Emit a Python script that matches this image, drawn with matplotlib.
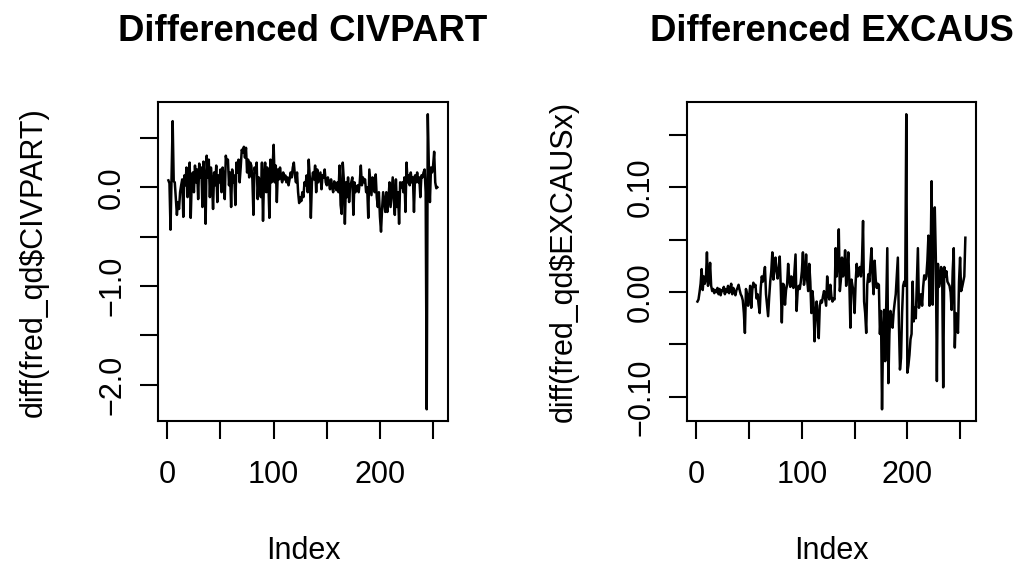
import matplotlib
matplotlib.use("Agg")
import matplotlib.pyplot as plt
import numpy as np

plt.rcParams['font.family'] = ['Liberation Sans', 'DejaVu Sans']

# differenced CIVPART (quarterly)
civpart = [
    0.07, 0.04, -0.43, 0.10, 0.67, 0.06, 0.05, -0.12, -0.28, -0.15,
    -0.22, -0.05, 0.02, 0.08, -0.30, 0.12, 0.02, 0.20, -0.10, 0.10,
    0.25, -0.31, 0.08, 0.15, -0.05, 0.22, 0.05, 0.18, -0.12, 0.24,
    0.10, 0.20, -0.20, 0.26, 0.05, -0.37, 0.32, 0.10, 0.28, -0.10,
    0.20, 0.05, -0.22, 0.15, 0.02, 0.22, -0.15, 0.12, 0.05, 0.18,
    -0.05, 0.20, 0.08, -0.12, 0.32, 0.25, 0.28, 0.02, 0.15, -0.20,
    0.18, 0.05, 0.12, -0.18, 0.25, 0.15, 0.28, 0.05, 0.20, 0.38,
    0.35, 0.41, 0.30, 0.40, 0.15, 0.28, 0.10, 0.25, 0.22, 0.08,
    -0.28, 0.20, 0.15, 0.25, -0.12, 0.10, 0.05, -0.10, 0.25, -0.34,
    0.12, 0.25, -0.05, 0.20, 0.05, -0.31, 0.28, 0.05, 0.20, 0.43,
    0.05, 0.22, -0.15, 0.18, 0.08, 0.20, 0.10, 0.05, 0.15, 0.08,
    0.12, 0.05, 0.10, 0.02, 0.08, 0.15, 0.10, 0.20, 0.25, 0.12,
    0.05, 0.15, -0.05, -0.16, -0.10, -0.14, -0.05, -0.10, 0.05, 0.02,
    0.12, -0.05, 0.28, 0.10, -0.31, 0.05, 0.15, 0.08, 0.22, -0.05,
    0.18, 0.05, 0.10, 0.15, -0.02, 0.12, 0.10, 0.18, 0.05, 0.02,
    0.10, 0.05, -0.02, 0.08, 0.00, -0.05, 0.06, 0.02, -0.03, 0.05,
    -0.05, 0.22, -0.18, -0.27, 0.25, 0.08, -0.37, 0.05, -0.10, 0.10,
    -0.15, 0.02, 0.05, 0.10, -0.28, 0.05, -0.05, 0.00, 0.02, -0.05,
    0.05, 0.22, 0.02, 0.10, 0.05, 0.08, -0.05, 0.00, -0.31, 0.18,
    0.05, -0.08, 0.10, 0.05, -0.05, 0.13, -0.10, -0.20, -0.05, -0.30,
    -0.45, -0.22, -0.05, -0.15, -0.25, -0.05, -0.25, -0.12, 0.05, -0.20,
    -0.05, 0.10, -0.12, -0.28, 0.08, -0.20, -0.05, -0.37, 0.05, 0.00,
    0.05, -0.05, 0.10, -0.25, 0.25, 0.05, 0.12, 0.02, 0.15, 0.05,
    0.10, -0.25, 0.12, 0.05, 0.15, 0.05, 0.10, -0.10, 0.12, 0.10,
    0.15, 0.18, -0.05, -2.25, 0.74, 0.20, -0.15, 0.20, 0.15, 0.22,
    0.36, 0.05, -0.01, 0.00,
]

# differenced EXCAUS (quarterly)
excaus = [
    -0.009, -0.007, 0.000, 0.008, 0.022, 0.002, 0.015, 0.008, 0.012, 0.038,
    0.006, 0.012, 0.028, 0.006, 0.001, 0.003, -0.001, 0.002, 0.000, 0.004,
    -0.002, 0.003, -0.003, 0.002, 0.001, 0.005, -0.002, 0.003, 0.000, 0.006,
    -0.001, 0.003, 0.008, -0.002, 0.004, 0.000, -0.003, 0.002, 0.004, 0.007,
    0.002, -0.002, -0.004, -0.008, -0.020, -0.039, 0.003, -0.002, -0.013, -0.004,
    0.006, -0.015, 0.002, 0.009, 0.005, 0.007, -0.006, -0.002, -0.012, -0.020,
    0.004, 0.015, 0.010, 0.016, 0.024, -0.002, -0.012, -0.023, -0.005, 0.010,
    0.020, 0.038, 0.012, 0.024, 0.033, 0.020, 0.013, 0.022, 0.034, 0.005,
    -0.029, 0.008, 0.007, -0.012, 0.002, 0.007, 0.027, 0.012, 0.005, 0.015,
    0.008, 0.004, 0.020, 0.036, -0.018, 0.001, 0.006, 0.003, 0.010, 0.020,
    0.038, 0.007, 0.015, 0.036, 0.012, 0.001, 0.027, 0.010, -0.020, 0.001,
    -0.010, -0.047, -0.020, -0.009, -0.025, -0.044, -0.013, -0.008, -0.010, -0.004,
    0.001, -0.006, -0.013, 0.015, -0.002, -0.007, 0.007, -0.004, -0.009, -0.006,
    -0.007, 0.042, 0.015, 0.030, 0.060, 0.001, 0.012, 0.033, 0.015, 0.022,
    0.040, 0.006, 0.020, 0.038, 0.010, -0.034, 0.012, 0.006, 0.001, -0.020,
    0.010, 0.027, 0.015, 0.020, 0.024, 0.015, 0.030, 0.068, -0.009, -0.020,
    -0.039, 0.007, 0.017, 0.010, 0.027, 0.042, 0.015, -0.002, 0.030, 0.012,
    0.004, 0.008, 0.007, -0.040, -0.018, -0.112, -0.040, -0.017, -0.066, -0.010,
    0.042, -0.087, -0.040, -0.018, -0.025, -0.034, -0.019, -0.010, -0.002, 0.015,
    0.033, -0.030, -0.074, -0.063, -0.020, 0.006, 0.010, 0.006, 0.170, -0.077,
    -0.070, -0.060, -0.045, -0.040, 0.010, -0.028, -0.015, -0.025, 0.010, 0.042,
    -0.015, -0.005, -0.002, -0.013, 0.005, 0.016, 0.012, 0.015, 0.030, 0.054,
    -0.013, 0.027, 0.106, -0.012, 0.060, 0.081, 0.033, -0.085, 0.027, 0.005,
    0.010, 0.024, 0.020, -0.091, 0.024, 0.015, 0.020, 0.010, 0.008, 0.006,
    0.000, -0.017, 0.020, 0.042, -0.053, -0.020, -0.029, -0.039, 0.010, 0.033,
    0.001, 0.005, 0.010, 0.015, 0.052,
]

titles = ["Differenced CIVPART", "Differenced EXCAUS"]
ylabels = ["diff(fred_qd$CIVPART)", "diff(fred_qd$EXCAUSx)"]
xticks = [0, 50, 100, 150, 200, 250]
xticklabels = ["0", "", "100", "", "200", ""]
yticks = [[0.5, 0.0, -0.5, -1.0, -1.5, -2.0],
          [0.15, 0.10, 0.05, 0.00, -0.05, -0.10]]
yticklabels = [["", "0.0", "", "\u22121.0", "", "\u22122.0"],
               ["", "0.10", "", "0.00", "", "\u22120.10"]]

fig = plt.figure(figsize=(10.21, 5.71), dpi=100)
boxes = [[0.1544, 0.2625, 0.2845, 0.5581],
         [0.6726, 0.2625, 0.2834, 0.5581]]

for k, series in enumerate([civpart, excaus]):
    ax = fig.add_axes(boxes[k])
    y = np.array(series)
    x = np.arange(1, len(y) + 1)
    ax.plot(x, y, color="black", lw=1.8)
    # R style 4% padding
    xr = x[-1] - x[0]
    ax.set_xlim(x[0] - 0.04 * xr, x[-1] + 0.04 * xr)
    yr = y.max() - y.min()
    ax.set_ylim(y.min() - 0.04 * yr, y.max() + 0.04 * yr)

    ax.set_xticks(xticks)
    ax.set_xticklabels(xticklabels)
    ax.set_yticks(yticks[k])
    ax.set_yticklabels(yticklabels[k], rotation=90, va="center")
    ax.tick_params(axis="both", length=13, width=1.5, labelsize=22, direction="out")
    ax.tick_params(axis="x", pad=15)
    ax.tick_params(axis="y", pad=9)
    for s in ax.spines.values():
        s.set_linewidth(1.5)

    ax.set_title(titles[k], fontsize=26.4, fontweight="bold", pad=44)
    ax.set_xlabel("Index", fontsize=22)
    ax.xaxis.set_label_coords(0.5, -0.36)
    ax.set_ylabel(ylabels[k], fontsize=22)
    ax.yaxis.set_label_coords(-0.374, 0.5)

fig.savefig("out.png", dpi=100)
